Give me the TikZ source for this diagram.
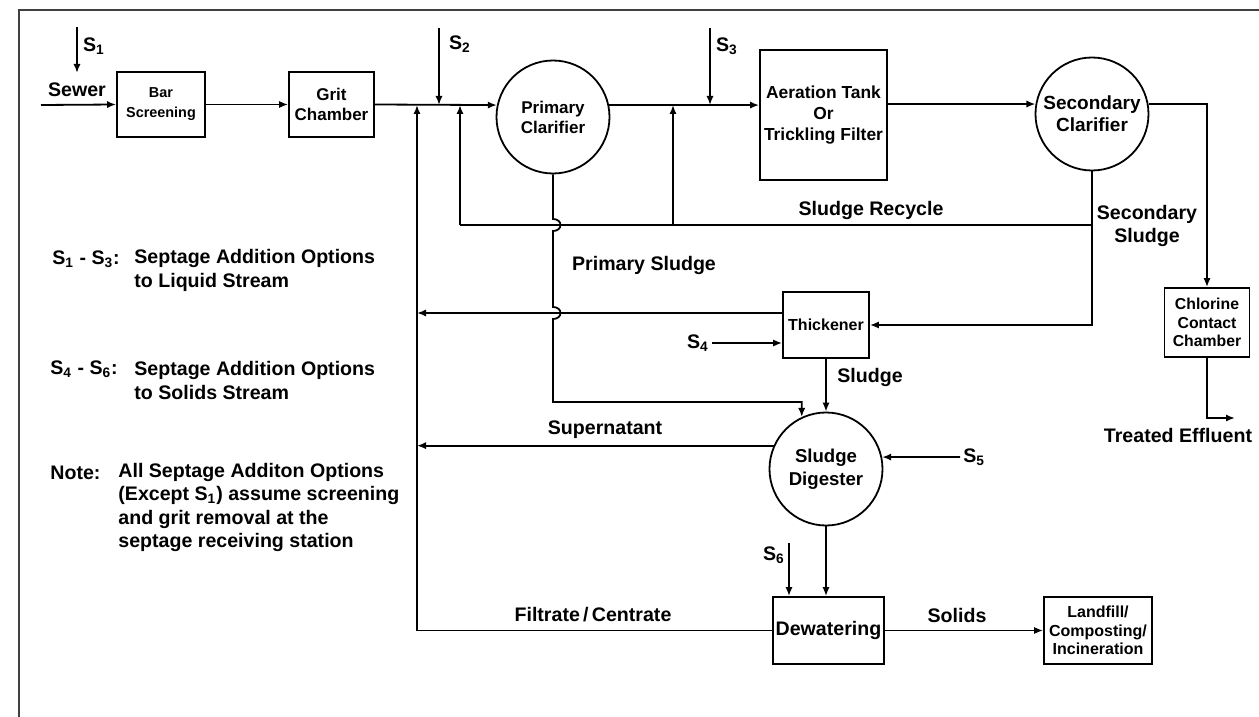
\documentclass[tikz,border=0pt]{standalone}
\usepackage{fontspec}
\setmainfont{Liberation Sans}
\usetikzlibrary{arrows.meta}

\tikzset{
	flow/.style={line width=0.9pt, -{Latex[length=4.5pt,width=3.6pt]}},
	pipe/.style={line width=0.9pt},
	unit/.style={draw, line width=0.9pt, align=center, inner sep=1pt},
	tank/.style={draw, circle, line width=0.9pt, align=center, inner sep=0pt, minimum size=56.5pt},
	lbl/.style={font=\fontsize{9.8}{11.6}\selectfont\bfseries, inner sep=0pt},
}

\begin{document}
\begin{tikzpicture}[x=0.5pt, y=-0.5pt]
	\useasboundingbox (0,0) rectangle (1259,717);
	\draw[line width=0.8pt, black!75] (19,717) -- (19,10) -- (1259,10);

	% process units
	\node[unit, minimum width=44pt, minimum height=32.5pt, font=\fontsize{7.2}{10}\selectfont\bfseries] (bar) at (161,104.5) {Bar\\Screening};
	\node[unit, minimum width=42.5pt, minimum height=32.5pt, font=\fontsize{8.5}{10}\selectfont\bfseries] (grit) at (331.5,104.5) {Grit\\Chamber};
	\node[tank, font=\fontsize{8.5}{10}\selectfont\bfseries] (prim) at (553,117) {Primary\\Clarifier};
	\node[unit, minimum width=63.5pt, minimum height=65pt, font=\fontsize{8.7}{10.3}\selectfont\bfseries] (aer) at (823.5,115) {Aeration Tank\\Or\\Trickling Filter};
	\node[tank, font=\fontsize{9.5}{11}\selectfont\bfseries] (sec) at (1092,114) {Secondary\\Clarifier};
	\node[unit, minimum width=42.5pt, minimum height=34.5pt, font=\fontsize{7.9}{9.25}\selectfont\bfseries] (chlor) at (1207,322.5) {Chlorine\\Contact\\Chamber};
	\node[unit, minimum width=43pt, minimum height=33pt, font=\fontsize{8}{9.5}\selectfont\bfseries] (thick) at (826,325) {Thickener};
	\node[tank, font=\fontsize{9.3}{11.5}\selectfont\bfseries] (dig) at (826,469) {Sludge\\Digester};
	\node[unit, minimum width=55.5pt, minimum height=33.5pt, font=\fontsize{9.8}{11}\selectfont\bfseries] (dew) at (828.5,630.5) {Dewatering};
	\node[unit, minimum width=54pt, minimum height=33.5pt, font=\fontsize{8}{9.25}\selectfont\bfseries] (land) at (1098,630.5) {Landfill/\\Composting/\\Incineration};

	% free ends and junctions
	\coordinate (sewer) at (41,105);
	\coordinate (s1a) at (77,27);
	\coordinate (s1b) at (77,73);
	\coordinate (s2a) at (439,28);
	\coordinate (s2b) at (439,105);
	\coordinate (s3a) at (710,28);
	\coordinate (s3b) at (710,105);
	\coordinate (s4) at (712,343);
	\coordinate (s5) at (960,457);
	\coordinate (s6) at (789,543);
	\coordinate (r0) at (417,105);
	\coordinate (ra) at (460,225);
	\coordinate (ja) at (460,105);
	\coordinate (rb) at (673,225);
	\coordinate (jb) at (673,105);
	\coordinate (rc) at (1092,225);
	\coordinate (eff) at (1235,418);
	\coordinate (t1) at ([yshift=6pt]thick.west);

	% labels
	\node[lbl] (sewerlbl) at (77,90) {Sewer};
	\node[lbl] (s1lbl) at (94,46) {S\textsubscript{1}};
	\node[lbl] (s2lbl) at (460,44) {S\textsubscript{2}};
	\node[lbl] (s3lbl) at (727,46) {S\textsubscript{3}};
	\node[lbl] (s4lbl) at (698,343) {S\textsubscript{4}};
	\node[lbl, anchor=west] (s5lbl) at ([xshift=1.5pt]s5) {S\textsubscript{5}};
	\node[lbl] (s6lbl) at (774,555) {S\textsubscript{6}};
	\node[lbl] (recyclelbl) at (871,210) {Sludge Recycle};
	\node[lbl, align=center] (seclbl) at (1147,226) {Secondary\\Sludge};
	\node[lbl] (primlbl) at (644,265) {Primary Sludge};
	\node[lbl] (sludgelbl) at (870,377) {Sludge};
	\node[lbl] (superlbl) at (605,430) {Supernatant};
	\node[lbl] (filtlbl) at (593,615) {Filtrate\,/\,Centrate};
	\node[lbl] (solidslbl) at (957,615) {Solids};
	\node[lbl] (efflbl) at (1178,435) {Treated Effluent};

	% legend
	\node[lbl, anchor=west] (leg1) at (52,259) {S\textsubscript{1} - S\textsubscript{3}:};
	\node[lbl, anchor=west, align=left] (leg1t) at (134,270.5) {Septage Addition Options\\to Liquid Stream};
	\node[lbl, anchor=west] (leg2) at (50,369) {S\textsubscript{4} - S\textsubscript{6}:};
	\node[lbl, anchor=west, align=left] (leg2t) at (134,380.5) {Septage Addition Options\\to Solids Stream};
	\node[lbl, anchor=west] (note) at (50,473) {Note:};
	\node[lbl, anchor=west, align=left] (notet) at (118,507.5) {All Septage Additon Options\\(Except S\textsubscript{1}) assume screening\\and grit removal at the\\septage receiving station};

	% liquid stream
	\draw[flow] (sewer) -- (bar.west);
	\draw[flow] (s1a) -- (s1b);
	\draw[flow] (bar.east) -- (grit.west);
	\draw[flow] (grit.east) -- (prim.168);
	\draw[flow] (s2a) -- (s2b);
	\draw[flow] (prim.12) -- (aer.west |- prim.12);
	\draw[flow] (s3a) -- (s3b);
	\draw[flow] (aer.east |- sec.170) -- (sec.170);
	\draw[flow] (sec.10) -| (chlor.north);
	\draw[flow] (chlor.south) |- (eff);

	% recycle and sludge lines
	\draw[pipe] (rc) -- (ra);
	\draw[flow] (ra) -- (ja);
	\draw[flow] (rb) -- (jb);
	\draw[flow] (sec.south) |- (thick.east);
	\draw[flow] (prim.south) -- (553,219) .. controls +(10,0) and +(10,0) .. (553,231) -- (553,307) .. controls +(10,0) and +(10,0) .. (553,319) -- (553,402) -| (dig.115);
	\draw[flow] (t1) -- (t1 -| r0);
	\draw[flow] (s4) -- (s4 -| thick.west);
	\draw[flow] (thick) -- (dig);
	\draw[flow] (dig.156) -- (dig.156 -| r0);
	\draw[flow] (s5) -- (dig.12);
	\draw[flow] (s6) -- (s6 |- dew.north);
	\draw[flow] (dig.south) -- (dig.south |- dew.north);
	\draw[flow] (dew.west) -| (r0);
	\draw[flow] (dew.east) -- (land.west);
\end{tikzpicture}
\end{document}
